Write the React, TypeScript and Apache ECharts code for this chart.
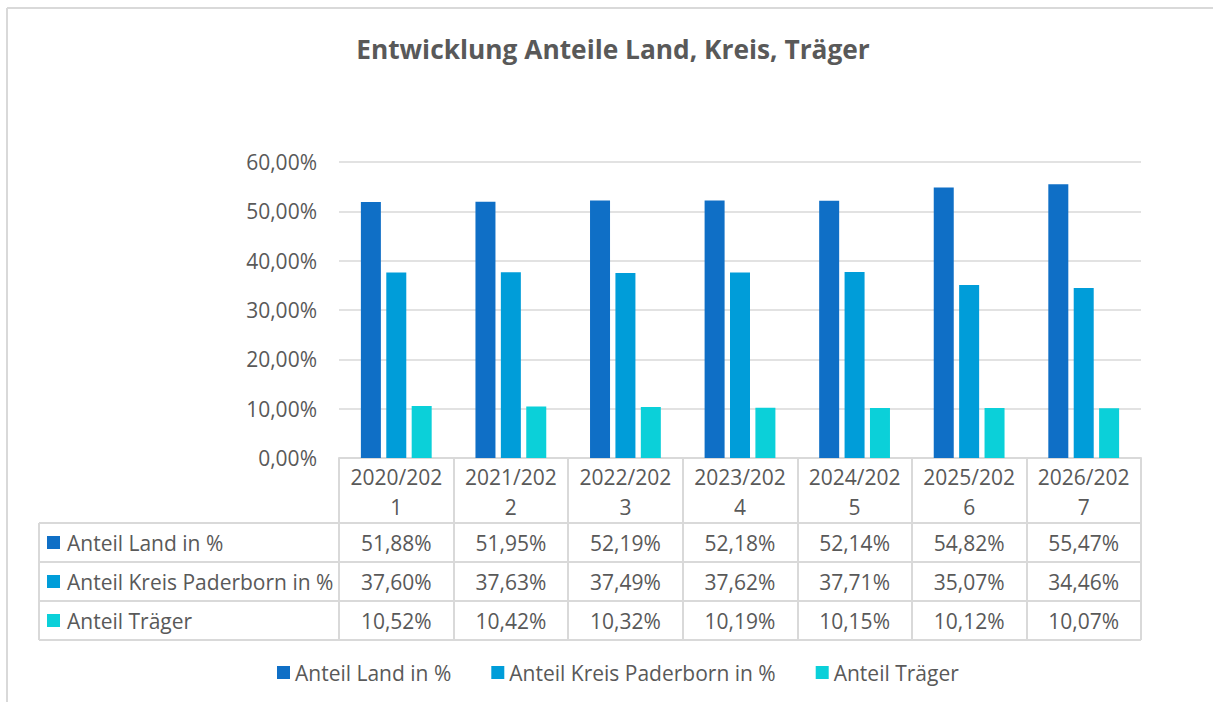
import React, { useEffect, useRef } from "react";
import * as echarts from "echarts";

const categories = ["2020/2021", "2021/2022", "2022/2023", "2023/2024", "2024/2025", "2025/2026", "2026/2027"];
const seriesNames = ["Anteil Land in %", "Anteil Kreis Paderborn in %", "Anteil Träger"];
const land = [51.88, 51.95, 52.19, 52.18, 52.14, 54.82, 55.47];
const kreis = [37.6, 37.63, 37.49, 37.62, 37.71, 35.07, 34.46];
const traeger = [10.52, 10.42, 10.32, 10.19, 10.15, 10.12, 10.07];
const colors = ["#0F6FC6", "#009DD9", "#0BD0D9"];
const yMin = 0;
const yMax = 60;
const yStep = 10;

const TEXT = "#595959";
const LINE = "#D9D9D9";
const FONT = "'Open Sans', 'Noto Sans', sans-serif";
const FS = 21;

const fmt = (v: number) => v.toFixed(2).replace(".", ",") + "%";

export default function App() {
  const ref = useRef<HTMLDivElement>(null);
  useEffect(() => {
    document.body.style.margin = "0";
    if (!ref.current) return;
    const chart = echarts.init(ref.current, null, { renderer: "svg" });
    const seriesData = [land, kreis, traeger];
    const gridLeft = 339;
    const gridRight = 72;
    const gridTop = 162;
    const gridBottom = 244;
    chart.setOption({
      animation: false,
      textStyle: { fontFamily: FONT },
      title: {
        text: "Entwicklung Anteile Land, Kreis, Träger",
        left: 608,
        textAlign: "center",
        top: 31,
        textStyle: { fontFamily: FONT, fontSize: 26.3, fontWeight: "bold", color: TEXT },
      },
      legend: {
        left: 277,
        top: 662,
        padding: 0,
        itemWidth: 13,
        itemHeight: 13,
        itemGap: 40,
        icon: "rect",
        textStyle: { fontFamily: FONT, fontSize: FS, color: TEXT },
        data: seriesNames,
      },
      grid: { left: gridLeft, right: gridRight, top: gridTop, bottom: gridBottom, containLabel: false },
      xAxis: {
        type: "category",
        data: categories,
        axisLine: { lineStyle: { color: LINE, width: 2 } },
        axisTick: { show: true, interval: 0, length: 182, lineStyle: { color: LINE, width: 2 } },
        axisLabel: {
          interval: 0,
          margin: 4,
          color: TEXT,
          fontFamily: FONT,
          fontSize: FS,
          lineHeight: 30,
          formatter: (v: string) => v.slice(0, 8) + "\n" + v.slice(8),
        },
      },
      yAxis: {
        type: "value",
        min: yMin,
        max: yMax,
        interval: yStep,
        axisLine: { show: false },
        axisTick: { show: false },
        splitLine: { lineStyle: { color: LINE, width: 1.5 } },
        axisLabel: {
          margin: 22,
          color: TEXT,
          fontFamily: FONT,
          fontSize: FS,
          formatter: (v: number) => fmt(v),
        },
      },
      series: seriesData.map((d, i) => ({
        name: seriesNames[i],
        type: "bar",
        data: d,
        barWidth: 20,
        barGap: "27%",
        itemStyle: { color: colors[i] },
      })),
    });

    // data table drawn with positions from the chart's own scales
    const axisY = chart.convertToPixel({ yAxisIndex: 0 }, 0) as number;
    const headerBottom = axisY + 65;
    const rowH = 39;
    const tableLeft = 39;
    const tableRight = 1213 - gridRight;
    const g: any[] = [];
    // chart border
    g.push({ type: "line", shape: { x1: 7, y1: 8, x2: 1213, y2: 8 }, style: { stroke: LINE, lineWidth: 2 } });
    g.push({ type: "line", shape: { x1: 7, y1: 8, x2: 7, y2: 702 }, style: { stroke: LINE, lineWidth: 2 } });
    for (let r = 0; r <= 3; r++) {
      const y = headerBottom + r * rowH;
      g.push({ type: "line", shape: { x1: tableLeft, y1: y, x2: tableRight, y2: y }, style: { stroke: LINE, lineWidth: 2 } });
    }
    g.push({
      type: "line",
      shape: { x1: tableLeft, y1: headerBottom, x2: tableLeft, y2: headerBottom + 3 * rowH },
      style: { stroke: LINE, lineWidth: 2 },
    });
    seriesData.forEach((d, r) => {
      const cy = headerBottom + r * rowH + rowH / 2;
      g.push({ type: "rect", shape: { x: 47, y: cy - 6.5, width: 13, height: 13 }, style: { fill: colors[r] } });
      g.push({
        type: "text",
        x: 67,
        y: cy,
        style: { text: seriesNames[r], fill: TEXT, font: `${FS}px ${FONT}`, textAlign: "left", textVerticalAlign: "middle" },
      });
      d.forEach((v, i) => {
        const cx = chart.convertToPixel({ xAxisIndex: 0 }, i) as number;
        g.push({
          type: "text",
          x: cx,
          y: cy,
          style: { text: fmt(v), fill: TEXT, font: `${FS}px ${FONT}`, textAlign: "center", textVerticalAlign: "middle" },
        });
      });
    });
    chart.setOption({ graphic: g });
    return () => chart.dispose();
  }, []);
  return <div ref={ref} style={{ width: 1213, height: 702 }} />;
}
